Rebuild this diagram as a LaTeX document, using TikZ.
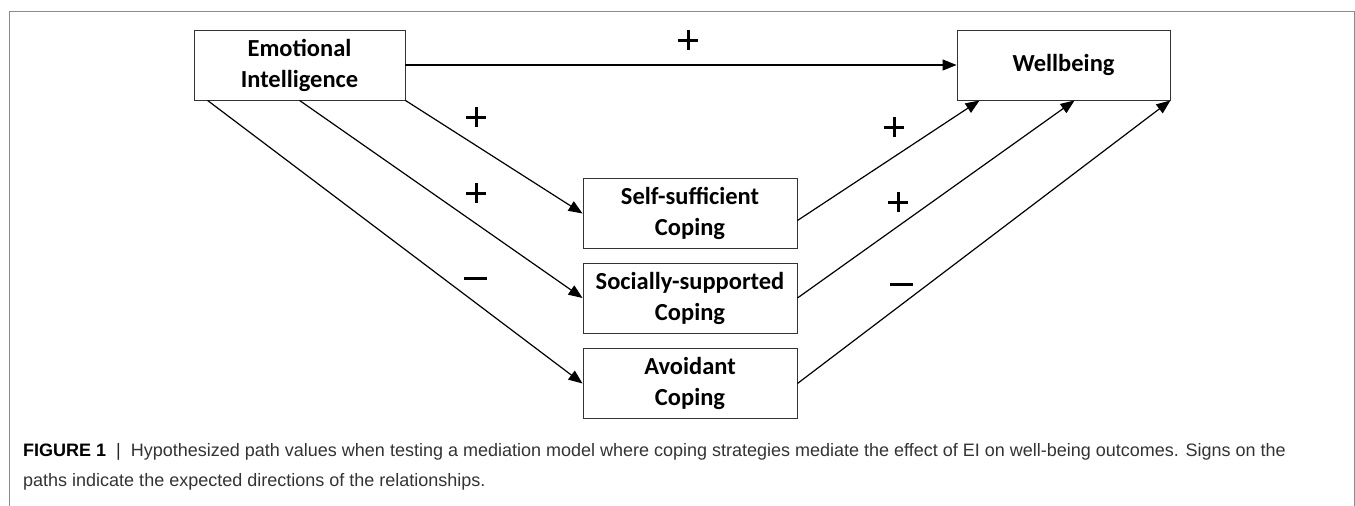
\documentclass[tikz,border=0pt]{standalone}
\usepackage{fontspec}
\setmainfont{Carlito}
\newfontfamily\capfont{Liberation Sans}
\usetikzlibrary{arrows.meta,calc}
\tikzset{
  box/.style={draw=black!80, line width=0.9pt, fill=white, inner sep=0pt, align=center,
    font=\fontsize{24.5}{31}\selectfont\bfseries},
  conn/.style={line width=1.2pt, -{Triangle[length=14pt,width=11pt]}},
  plussign/.style={minimum size=20pt, inner sep=0pt,
    path picture={\draw[line width=3pt] (path picture bounding box.west) -- (path picture bounding box.east)
      (path picture bounding box.north) -- (path picture bounding box.south);}},
  minussign/.style={minimum width=23pt, minimum height=3pt, inner sep=0pt, fill=black},
}
\begin{document}
\begin{tikzpicture}[x=1pt,y=-1pt]
\useasboundingbox (0,0) rectangle (1355,506);
\draw[black!45, line width=0.9pt] (9,510) -- (9,11) -- (1354,11) -- (1354,510);
\node[box, minimum width=211pt, minimum height=70pt] (ei) at (299.5,65) {Emotional\\Intelligence};
\node[box, minimum width=213pt, minimum height=70pt] (wb) at (1063.5,65) {Wellbeing};
\node[box, minimum width=214pt, minimum height=70pt] (self) at (690,213.5) {Self-sufficient\\Coping};
\node[box, minimum width=214pt, minimum height=70pt] (soc) at (690,298) {Socially-supported\\Coping};
\node[box, minimum width=214pt, minimum height=70pt] (avo) at (690,383.5) {Avoidant\\Coping};
\draw[conn] (ei.east) -- (wb.west);
\draw[conn] (ei.south east) -- (self.west);
\draw[conn] ([xshift=106pt]ei.south west) -- (soc.west);
\draw[conn] ([xshift=14pt]ei.south west) -- (avo.west);
\draw[conn] ([yshift=-7pt]self.east) -- ([xshift=23pt]wb.south west);
\draw[conn] (soc.east) -- ([xshift=118pt]wb.south west);
\draw[conn] (avo.east) -- (wb.south east);
\node[plussign] (s1) at (688,40) {};
\node[plussign] (s2) at (476,117) {};
\node[plussign] (s3) at (476,193) {};
\node[minussign] (s4) at (475,278) {};
\node[plussign] (s5) at (894,127) {};
\node[plussign] (s6) at (898,202) {};
\node[minussign] (s7) at (901,284) {};
\node[anchor=north west, inner sep=0pt, align=left, font=\capfont\fontsize{18}{30}\selectfont, text=black!80] (cap) at (23,443)
  {\textcolor{black}{\textbf{FIGURE 1}}\ \ \textcolor{black!85}{|}\ \ Hypothesized path values when testing a mediation model where coping strategies mediate the effect of EI on well-being outcomes. Signs on the\\paths indicate the expected directions of the relationships.};
\end{tikzpicture}
\end{document}
